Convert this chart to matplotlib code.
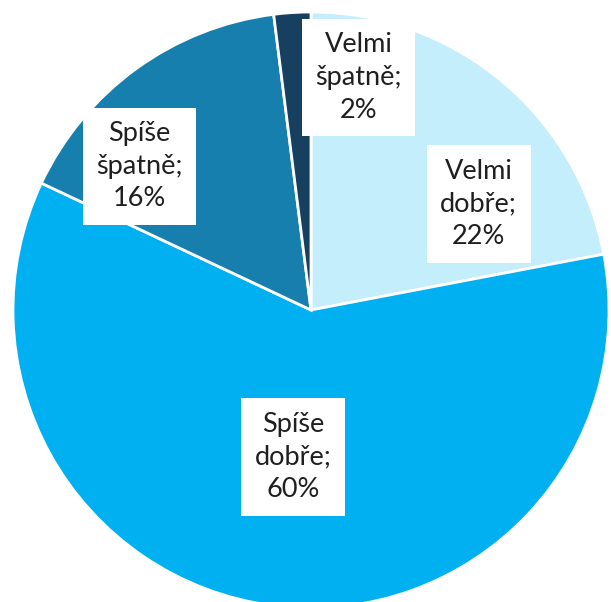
import matplotlib.pyplot as plt

# hodnoceni
labels = ['Velmi dobře', 'Spíše dobře', 'Spíše špatně', 'Velmi špatně']
values = [22, 60, 16, 2]
colors = ['#C5EEFC', '#00B0F0', '#167FAE', '#163F60']

# kde sedi popisky (x, y v jednotkach polomeru)
label_pos = [(0.563, 0.356), (-0.06, -0.493), (-0.575, 0.482), (0.16, 0.78)]

fig = plt.figure(figsize=(6.11, 6.02), dpi=100)
ax = fig.add_axes([0, 0, 1, 1])

R = 298.0
cx, cy = 311.0, 602 - 310.0

wedges, _ = ax.pie(values, colors=colors, startangle=90, counterclock=False,
                   radius=1.0, wedgeprops=dict(edgecolor='white', linewidth=2))

for lab, v, (x, y) in zip(labels, values, label_pos):
    txt = lab.replace(' ', '\n') + ';\n' + f'{v}%'
    ax.text(x, y, txt, ha='center', va='center', fontsize=19.5, family='Lato',
            color='#1f1f1f', linespacing=1.38,
            bbox=dict(boxstyle='square,pad=0.5', facecolor='white', edgecolor='none'))

ax.set_xlim(-cx / R, (611 - cx) / R)
ax.set_ylim(-cy / R, (602 - cy) / R)
ax.set_aspect('auto')
ax.axis('off')

fig.savefig('out.png', dpi=100)
